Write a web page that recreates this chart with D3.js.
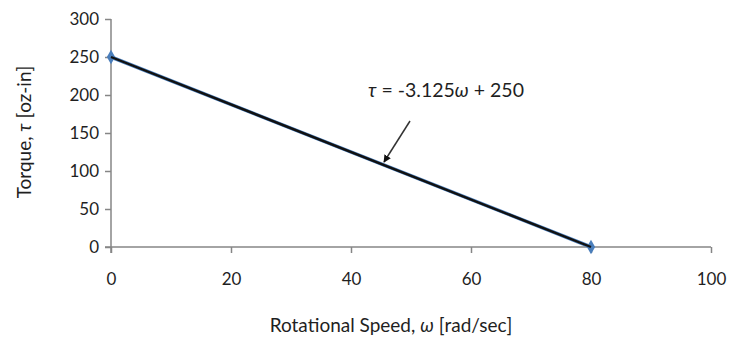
<!DOCTYPE html>
<html>
<head>
<meta charset="utf-8">
<script src="https://cdn.jsdelivr.net/npm/d3@7"></script>
<style>
  body { margin: 0; background: #fff; }
  text { font-family: Lato, "Open Sans", sans-serif; fill: #1f1f1f; }
</style>
</head>
<body>
<div id="chart"></div>
<script>
const speeds = [0, 80];
const torques = [250, 0];
const xTicks = [0, 20, 40, 60, 80, 100];
const yTicks = [0, 50, 100, 150, 200, 250, 300];
const slope = -3.125;
const intercept = 250;

const width = 730, height = 347;
const margin = { left: 111, right: 19, top: 19, bottom: 100 };

const svg = d3.select("#chart").append("svg")
  .attr("width", width)
  .attr("height", height);

const x = d3.scaleLinear().domain([0, 100]).range([margin.left, width - margin.right]);
const y = d3.scaleLinear().domain([0, 300]).range([height - margin.bottom, margin.top]);

// axes
const yAxis = svg.append("g")
  .attr("transform", `translate(${x(0)},0)`)
  .call(d3.axisLeft(y).tickValues(yTicks).tickSize(6).tickPadding(6));
const xAxis = svg.append("g")
  .attr("transform", `translate(0,${y(0)})`)
  .call(d3.axisBottom(x).tickValues(xTicks).tickSize(6).tickPadding(22));

[yAxis, xAxis].forEach(a => {
  a.select(".domain").attr("stroke", "#868686").attr("stroke-width", 1.5);
  a.selectAll(".tick line").attr("stroke", "#868686").attr("stroke-width", 1.5);
  a.selectAll(".tick text").attr("font-size", 17).attr("font-family", "Lato, sans-serif").attr("fill", "#1f1f1f");
});
xAxis.select(".domain").attr("d", `M${x(0) - 6},0H${x(100)}`);
yAxis.select(".domain").attr("d", `M0,${y(300)}V${y(0) + 6}`);
xAxis.selectAll(".tick text").attr("dy", "0.6em");

const pts = speeds.map((s, i) => ({ s, t: torques[i] }));

// data series
svg.append("path")
  .datum(pts)
  .attr("fill", "none")
  .attr("stroke", "#4a7ebb")
  .attr("stroke-width", 3.5)
  .attr("d", d3.line().x(d => x(d.s)).y(d => y(d.t)));

svg.selectAll(".mk")
  .data(pts)
  .join("path")
  .attr("class", "mk")
  .attr("transform", d => `translate(${x(d.s)},${y(d.t)})`)
  .attr("d", d3.symbol(d3.symbolDiamond, 60)())
  .attr("fill", "#4a7ebb");

// trendline
const trend = speeds.map(s => ({ s, t: slope * s + intercept }));
svg.append("path")
  .datum(trend)
  .attr("fill", "none")
  .attr("stroke", "#111")
  .attr("stroke-width", 2.4)
  .attr("d", d3.line().x(d => x(d.s)).y(d => y(d.t)));

// annotation
svg.append("defs").append("marker")
  .attr("id", "arr")
  .attr("viewBox", "0 0 10 10")
  .attr("refX", 9).attr("refY", 5)
  .attr("markerWidth", 5).attr("markerHeight", 5)
  .attr("orient", "auto")
  .append("path").attr("d", "M0,0L10,5L0,10z").attr("fill", "#111");

svg.append("line")
  .attr("x1", 410).attr("y1", 121)
  .attr("x2", 384).attr("y2", 162)
  .attr("stroke", "#333").attr("stroke-width", 1.5)
  .attr("marker-end", "url(#arr)");

const eq = svg.append("text")
  .attr("x", 446).attr("y", 97)
  .attr("text-anchor", "middle")
  .attr("font-size", 19.5);
eq.append("tspan").attr("font-style", "italic").text("τ");
eq.append("tspan").text(" = -3.125");
eq.append("tspan").attr("font-style", "italic").text("ω");
eq.append("tspan").text(" + 250");

// axis titles
const xt = svg.append("text")
  .attr("x", x(50) - 20).attr("y", 332)
  .attr("text-anchor", "middle")
  .attr("font-size", 19);
xt.append("tspan").text("Rotational Speed, ");
xt.append("tspan").attr("font-style", "italic").text("ω");
xt.append("tspan").text(" [rad/sec]");

const yt = svg.append("text")
  .attr("transform", `translate(31,132) rotate(-90)`)
  .attr("text-anchor", "middle")
  .attr("font-size", 19);
yt.append("tspan").text("Torque, ");
yt.append("tspan").attr("font-style", "italic").text("τ");
yt.append("tspan").text(" [oz-in]");
</script>
</body>
</html>
